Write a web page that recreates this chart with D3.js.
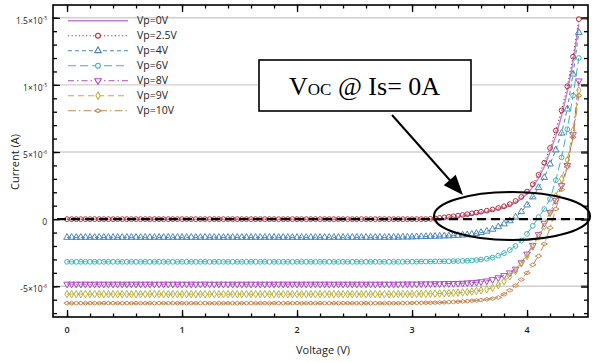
<!DOCTYPE html>
<html>
<head>
<meta charset="utf-8">
<script src="https://cdn.jsdelivr.net/npm/d3@7"></script>
<style>
  body { margin: 0; background: #fff; }
  svg { display: block; }
</style>
</head>
<body>
<div id="chart"></div>
<script>
// Voltage sweep (V)
const voltage = [
  0, 0.04, 0.08, 0.12, 0.16, 0.2, 0.24, 0.28, 0.32, 0.36,
  0.4, 0.44, 0.48, 0.52, 0.56, 0.6, 0.64, 0.68, 0.72, 0.76,
  0.8, 0.84, 0.88, 0.92, 0.96, 1, 1.04, 1.08, 1.12, 1.16,
  1.2, 1.24, 1.28, 1.32, 1.36, 1.4, 1.44, 1.48, 1.52, 1.56,
  1.6, 1.64, 1.68, 1.72, 1.76, 1.8, 1.84, 1.88, 1.92, 1.96,
  2, 2.04, 2.08, 2.12, 2.16, 2.2, 2.24, 2.28, 2.32, 2.36,
  2.4, 2.44, 2.48, 2.52, 2.56, 2.6, 2.64, 2.68, 2.72, 2.76,
  2.8, 2.84, 2.88, 2.92, 2.96, 3, 3.04, 3.08, 3.12, 3.16,
  3.2, 3.24, 3.28, 3.32, 3.36, 3.4, 3.44, 3.48, 3.52, 3.56,
  3.6,
  3.65, 3.7, 3.75, 3.8, 3.85, 3.9, 3.95, 4, 4.05, 4.1, 4.15, 4.2, 4.25, 4.3, 4.35, 4.4, 4.45
];

// Current values in microamps (1e-6 A), one array per Vp
const vp0 = [
  -0.02, -0.02, -0.02, -0.02, -0.02, -0.02, -0.02, -0.02, -0.02, -0.02,
  -0.02, -0.02, -0.02, -0.02, -0.02, -0.02, -0.02, -0.02, -0.02, -0.02,
  -0.02, -0.02, -0.02, -0.02, -0.02, -0.02, -0.02, -0.02, -0.02, -0.02,
  -0.02, -0.02, -0.02, -0.02, -0.02, -0.02, -0.02, -0.02, -0.02, -0.02,
  -0.02, -0.02, -0.02, -0.02, -0.02, -0.02, -0.02, -0.02, -0.02, -0.02,
  -0.02, -0.02, -0.02, -0.02, -0.02, -0.02, -0.02, -0.02, -0.02, -0.02,
  -0.02, -0.02, -0.02, -0.02, -0.02, -0.02, -0.02, -0.02, -0.02, -0.02,
  -0.02, -0.02, -0.02, -0.02, -0.02, -0.02, -0.02, -0.02, -0.02, -0.02,
  -0.01, 0.02, 0.05, 0.09, 0.13, 0.17, 0.22, 0.27, 0.33, 0.39,
  0.45,
  0.53, 0.62, 0.73, 0.85, 1.0, 1.21, 1.5, 1.88, 2.4, 3.05, 3.9, 5.0, 6.2, 7.7, 9.5, 11.7, 14.5
];
const vp25 = [
  0, 0, 0, 0, 0, 0, 0, 0, 0, 0,
  0, 0, 0, 0, 0, 0, 0, 0, 0, 0,
  0, 0, 0, 0, 0, 0, 0, 0, 0, 0,
  0, 0, 0, 0, 0, 0, 0, 0, 0, 0,
  0, 0, 0, 0, 0, 0, 0, 0, 0, 0,
  0, 0, 0, 0, 0, 0, 0, 0, 0, 0,
  0, 0, 0, 0, 0, 0, 0, 0, 0, 0,
  0, 0, 0, 0, 0, 0, 0, 0, 0, 0.02,
  0.05, 0.09, 0.13, 0.17, 0.21, 0.26, 0.31, 0.37, 0.43, 0.49,
  0.55,
  0.63, 0.72, 0.83, 0.96, 1.12, 1.35, 1.65, 2.05, 2.6, 3.3, 4.2, 5.3, 6.6, 8.1, 9.9, 12.1, 14.9
];
const vp4 = [
  -1.36, -1.36, -1.36, -1.36, -1.36, -1.36, -1.36, -1.36, -1.36, -1.36,
  -1.36, -1.36, -1.36, -1.36, -1.36, -1.36, -1.36, -1.36, -1.36, -1.36,
  -1.36, -1.36, -1.36, -1.36, -1.36, -1.36, -1.36, -1.36, -1.36, -1.36,
  -1.36, -1.36, -1.36, -1.36, -1.36, -1.36, -1.36, -1.36, -1.36, -1.36,
  -1.36, -1.36, -1.36, -1.36, -1.36, -1.36, -1.36, -1.36, -1.36, -1.36,
  -1.36, -1.36, -1.36, -1.36, -1.36, -1.36, -1.36, -1.36, -1.36, -1.36,
  -1.36, -1.36, -1.36, -1.36, -1.36, -1.36, -1.36, -1.36, -1.36, -1.36,
  -1.36, -1.35, -1.35, -1.34, -1.34, -1.33, -1.32, -1.31, -1.3, -1.29,
  -1.28, -1.27, -1.26, -1.25, -1.23, -1.21, -1.19, -1.17, -1.13, -1.07,
  -1.0,
  -0.9, -0.76, -0.57, -0.36, -0.13, 0.15, 0.55, 1.05, 1.65, 2.35, 3.1, 4.1, 5.15, 6.4, 8.2, 10.8, 13.9
];
const vp6 = [
  -3.18, -3.18, -3.18, -3.18, -3.18, -3.18, -3.18, -3.18, -3.18, -3.18,
  -3.18, -3.18, -3.18, -3.18, -3.18, -3.18, -3.18, -3.18, -3.18, -3.18,
  -3.18, -3.18, -3.18, -3.18, -3.18, -3.18, -3.18, -3.18, -3.18, -3.18,
  -3.18, -3.18, -3.18, -3.18, -3.18, -3.18, -3.18, -3.18, -3.18, -3.18,
  -3.18, -3.18, -3.18, -3.18, -3.18, -3.18, -3.18, -3.18, -3.18, -3.18,
  -3.18, -3.18, -3.18, -3.18, -3.18, -3.18, -3.18, -3.18, -3.18, -3.18,
  -3.18, -3.18, -3.18, -3.18, -3.18, -3.18, -3.18, -3.18, -3.18, -3.18,
  -3.18, -3.18, -3.18, -3.18, -3.17, -3.17, -3.17, -3.16, -3.16, -3.16,
  -3.15, -3.15, -3.14, -3.14, -3.13, -3.12, -3.11, -3.1, -3.08, -3.05,
  -3.01,
  -2.95, -2.86, -2.72, -2.53, -2.3, -2.0, -1.6, -1.1, -0.5, 0.15, 0.75, 1.5, 2.9, 4.6, 6.7, 9.2, 12.0
];
const vp8 = [
  -4.84, -4.84, -4.84, -4.84, -4.84, -4.84, -4.84, -4.84, -4.84, -4.84,
  -4.84, -4.84, -4.84, -4.84, -4.84, -4.84, -4.84, -4.84, -4.84, -4.84,
  -4.84, -4.84, -4.84, -4.84, -4.84, -4.84, -4.84, -4.84, -4.84, -4.84,
  -4.84, -4.84, -4.84, -4.84, -4.84, -4.84, -4.84, -4.84, -4.84, -4.84,
  -4.84, -4.84, -4.84, -4.84, -4.84, -4.84, -4.84, -4.84, -4.84, -4.84,
  -4.84, -4.84, -4.84, -4.84, -4.84, -4.84, -4.84, -4.84, -4.84, -4.84,
  -4.84, -4.84, -4.84, -4.84, -4.84, -4.84, -4.84, -4.84, -4.84, -4.84,
  -4.84, -4.84, -4.84, -4.83, -4.83, -4.83, -4.83, -4.82, -4.82, -4.82,
  -4.81, -4.81, -4.8, -4.8, -4.79, -4.78, -4.77, -4.75, -4.73, -4.7,
  -4.66,
  -4.6, -4.5, -4.36, -4.2, -4.0, -3.72, -3.25, -2.6, -1.95, -1.15, -0.3, 0.5, 1.4, 2.5, 4.0, 6.3, 10.3
];
const vp9 = [
  -5.59, -5.59, -5.59, -5.59, -5.59, -5.59, -5.59, -5.59, -5.59, -5.59,
  -5.59, -5.59, -5.59, -5.59, -5.59, -5.59, -5.59, -5.59, -5.59, -5.59,
  -5.59, -5.59, -5.59, -5.59, -5.59, -5.59, -5.59, -5.59, -5.59, -5.59,
  -5.59, -5.59, -5.59, -5.59, -5.59, -5.59, -5.59, -5.59, -5.59, -5.59,
  -5.59, -5.59, -5.59, -5.59, -5.59, -5.59, -5.59, -5.59, -5.59, -5.59,
  -5.59, -5.59, -5.59, -5.59, -5.59, -5.59, -5.59, -5.59, -5.59, -5.59,
  -5.59, -5.59, -5.59, -5.59, -5.59, -5.59, -5.59, -5.59, -5.59, -5.59,
  -5.59, -5.59, -5.58, -5.58, -5.58, -5.58, -5.57, -5.57, -5.56, -5.56,
  -5.55, -5.54, -5.53, -5.52, -5.5, -5.48, -5.46, -5.43, -5.39, -5.35,
  -5.3,
  -5.22, -5.12, -4.92, -4.62, -4.25, -3.85, -3.3, -2.75, -2.05, -1.3, -0.55, 0.45, 1.7, 3.0, 4.4, 6.6, 9.6
];
const vp10 = [
  -6.26, -6.26, -6.26, -6.26, -6.26, -6.26, -6.26, -6.26, -6.26, -6.26,
  -6.26, -6.26, -6.26, -6.26, -6.26, -6.26, -6.26, -6.26, -6.26, -6.26,
  -6.26, -6.26, -6.26, -6.26, -6.26, -6.26, -6.26, -6.26, -6.26, -6.26,
  -6.26, -6.26, -6.26, -6.26, -6.26, -6.26, -6.26, -6.26, -6.26, -6.26,
  -6.26, -6.26, -6.26, -6.26, -6.26, -6.26, -6.26, -6.26, -6.26, -6.26,
  -6.26, -6.26, -6.26, -6.26, -6.26, -6.26, -6.26, -6.26, -6.26, -6.26,
  -6.26, -6.26, -6.26, -6.26, -6.26, -6.26, -6.26, -6.26, -6.26, -6.26,
  -6.26, -6.26, -6.26, -6.25, -6.25, -6.25, -6.24, -6.24, -6.23, -6.23,
  -6.22, -6.21, -6.2, -6.18, -6.17, -6.15, -6.13, -6.11, -6.08, -6.06,
  -6.03,
  -5.98, -5.92, -5.84, -5.6, -5.3, -4.95, -4.5, -4.0, -3.4, -2.75, -1.85, -0.65, 0.75, 2.2, 3.9, 6.1, 9.2
];

const seriesNames = ['Vp=0V', 'Vp=2.5V', 'Vp=4V', 'Vp=6V', 'Vp=8V', 'Vp=9V', 'Vp=10V'];
const seriesValues = [vp0, vp25, vp4, vp6, vp8, vp9, vp10];

// Tick values (in microamps for y) and their labels
const xTicks = [0, 1, 2, 3, 4];
const yTicks = [-5, 0, 5, 10, 15];
const yTickMantissa = ['-5\u00d710', '0', '5\u00d710', '1\u00d710', '1.5\u00d710'];
const yTickExponent = ['-6', '', '-6', '-5', '-5'];

// Styles for each series, same order as seriesNames
const colors = ['#c47fd6', '#b2303a', '#4a86b8', '#3fb3b8', '#b04ac2', '#b9b13e', '#c28a52'];
const dashes = ['none', '1.2,2.4', '4,3', '8,4', '6,3,1.5,3', '6,4', '8,3,1.5,3'];
const markers = [null, 'circle', 'triangle', 'circle', 'down', 'diamond', 'hdiamond'];

const W = 594, H = 362;
const plotL = 53, plotR = 588, plotT = 5, plotB = 317;

const svg = d3.select('#chart').append('svg')
  .attr('width', W)
  .attr('height', H)
  .style('font-family', '"Open Sans", sans-serif');

const x = d3.scaleLinear().domain([-0.122, 4.53]).range([plotL, plotR]);
const y = d3.scaleLinear().domain([-7.29, 15.95]).range([plotB, plotT]);

// Horizontal grid lines at major y ticks
svg.append('g')
  .selectAll('line')
  .data(yTicks)
  .join('line')
    .attr('x1', plotL).attr('x2', plotR)
    .attr('y1', d => y(d)).attr('y2', d => y(d))
    .attr('stroke', '#cfcfcf')
    .attr('stroke-width', 1.3);

// Ticks on all four sides, pointing inwards
const xMinor = d3.range(0, 4.5, 0.2);
const yMinor = d3.range(-7, 16, 1);

function tickAxis(axis, tr) {
  const g = svg.append('g').attr('transform', tr).call(axis);
  g.select('.domain').remove();
  g.selectAll('line').attr('stroke', '#000').attr('stroke-width', 1.3);
  return g;
}
tickAxis(d3.axisBottom(x).tickValues(xMinor).tickSize(-3.5).tickFormat(''), `translate(0,${plotB})`);
tickAxis(d3.axisBottom(x).tickValues(xTicks).tickSize(-7).tickFormat(''), `translate(0,${plotB})`);
tickAxis(d3.axisTop(x).tickValues(xMinor).tickSize(-3.5).tickFormat(''), `translate(0,${plotT})`);
tickAxis(d3.axisTop(x).tickValues(xTicks).tickSize(-7).tickFormat(''), `translate(0,${plotT})`);
tickAxis(d3.axisLeft(y).tickValues(yMinor).tickSize(-4).tickFormat(''), `translate(${plotL},0)`);
tickAxis(d3.axisLeft(y).tickValues(yTicks).tickSize(-7).tickFormat(''), `translate(${plotL},0)`);
tickAxis(d3.axisRight(y).tickValues(yMinor).tickSize(-4).tickFormat(''), `translate(${plotR},0)`);
tickAxis(d3.axisRight(y).tickValues(yTicks).tickSize(-7).tickFormat(''), `translate(${plotR},0)`)
  .selectAll('line').attr('stroke-width', 2.4).attr('stroke', '#333');

// Series lines
const line = d3.line()
  .x((d, i) => x(voltage[i]))
  .y(d => y(d));

const symbolFor = {
  circle: d3.symbol().type(d3.symbolCircle).size(18),
  triangle: d3.symbol().type(d3.symbolTriangle).size(19),
  down: d3.symbol().type(d3.symbolTriangle).size(19),
  diamond: d3.symbol().type(d3.symbolDiamond).size(16),
  hdiamond: d3.symbol().type(d3.symbolDiamond).size(12)
};
const rotateFor = { down: 180, hdiamond: 90 };

function markerTransform(kind, px, py) {
  const r = rotateFor[kind] || 0;
  return `translate(${px},${py})` + (r ? ` rotate(${r})` : '');
}

seriesValues.forEach((vals, s) => {
  const g = svg.append('g').attr('class', 'series');
  g.append('path')
    .attr('d', line(vals))
    .attr('fill', 'none')
    .attr('stroke', colors[s])
    .attr('stroke-width', s === 0 ? 1.4 : 1)
    .attr('stroke-dasharray', dashes[s]);
  if (markers[s]) {
    g.selectAll('path.mk')
      .data(vals)
      .join('path')
        .attr('class', 'mk')
        .attr('d', symbolFor[markers[s]]())
        .attr('transform', (d, i) => markerTransform(markers[s], x(voltage[i]), y(d)))
        .attr('fill', 'none')
        .attr('stroke', colors[s])
        .attr('stroke-width', 1);
  }
});

// Black dashed zero line
svg.append('line')
  .attr('x1', plotL + 4).attr('x2', plotR)
  .attr('y1', y(0)).attr('y2', y(0))
  .attr('stroke', '#000')
  .attr('stroke-width', 2.2)
  .attr('stroke-dasharray', '9,5');

// Plot frame
svg.append('rect')
  .attr('x', plotL).attr('y', plotT)
  .attr('width', plotR - plotL).attr('height', plotB - plotT)
  .attr('fill', 'none')
  .attr('stroke', '#000')
  .attr('stroke-width', 1.6);

// Tick labels
svg.append('g')
  .selectAll('text')
  .data(xTicks)
  .join('text')
    .attr('x', d => x(d))
    .attr('y', 333)
    .attr('text-anchor', 'middle')
    .style('font-size', '9px')
    .style('font-weight', 600)
    .attr('fill', '#222')
    .text(d => d);

const yLab = svg.append('g')
  .selectAll('text')
  .data(yTicks)
  .join('text')
    .attr('x', 47)
    .attr('y', d => y(d) + 6)
    .attr('text-anchor', 'end')
    .style('font-size', '8.5px')
    .attr('fill', '#222');
yLab.append('tspan').text((d, i) => yTickMantissa[i]);
yLab.append('tspan')
  .attr('dy', -4)
  .style('font-size', '5px')
  .text((d, i) => yTickExponent[i]);

// Axis titles
svg.append('text')
  .attr('x', 323).attr('y', 354)
  .attr('text-anchor', 'middle')
  .style('font-size', '11px')
  .attr('fill', '#222')
  .text('Voltage (V)');

svg.append('text')
  .attr('transform', 'translate(19,162) rotate(-90)')
  .attr('text-anchor', 'middle')
  .style('font-size', '11px')
  .attr('fill', '#222')
  .text('Current (A)');

// Legend
const legend = svg.append('g').attr('class', 'legend');
seriesNames.forEach((name, s) => {
  const ly = 20.7 + s * 15;
  legend.append('line')
    .attr('x1', 68).attr('x2', 128)
    .attr('y1', ly).attr('y2', ly)
    .attr('stroke', colors[s])
    .attr('stroke-width', s === 0 ? 1.6 : 1.1)
    .attr('stroke-dasharray', dashes[s]);
  if (markers[s]) {
    legend.append('path')
      .attr('d', symbolFor[markers[s]]())
      .attr('transform', markerTransform(markers[s], 98, ly))
      .attr('fill', '#fff')
      .attr('stroke', colors[s])
      .attr('stroke-width', 1.1);
  }
  legend.append('text')
    .attr('x', 137).attr('y', ly)
    .attr('dy', '0.36em')
    .style('font-size', '10.5px')
    .attr('fill', '#222')
    .text(name);
});

// Annotation: box, arrow and ellipse around the crossing region
const note = svg.append('g').attr('class', 'note');
note.append('rect')
  .attr('x', 259).attr('y', 60)
  .attr('width', 212).attr('height', 51)
  .attr('fill', '#fff')
  .attr('stroke', '#000')
  .attr('stroke-width', 1.6);

const noteText = note.append('text')
  .attr('x', 289).attr('y', 95)
  .style('font-family', '"Liberation Serif", "Times New Roman", serif')
  .style('font-size', '26px')
  .attr('fill', '#000');
noteText.append('tspan').text('V');
noteText.append('tspan').style('font-size', '17px').text('OC');
noteText.append('tspan').text(' @ Is= 0A');

const ax0 = [392, 115], ax1 = [463, 195];
const ang = Math.atan2(ax1[1] - ax0[1], ax1[0] - ax0[0]) * 180 / Math.PI;
note.append('line')
  .attr('x1', ax0[0]).attr('y1', ax0[1])
  .attr('x2', ax1[0] - 12 * Math.cos(ang * Math.PI / 180))
  .attr('y2', ax1[1] - 12 * Math.sin(ang * Math.PI / 180))
  .attr('stroke', '#000')
  .attr('stroke-width', 2);
note.append('path')
  .attr('d', 'M0,0 L-20,-8 L-20,8 Z')
  .attr('transform', `translate(${ax1[0]},${ax1[1]}) rotate(${ang})`)
  .attr('fill', '#000');

note.append('ellipse')
  .attr('cx', 512).attr('cy', 216)
  .attr('rx', 78).attr('ry', 24)
  .attr('fill', 'none')
  .attr('stroke', '#000')
  .attr('stroke-width', 2.2);
</script>
</body>
</html>
